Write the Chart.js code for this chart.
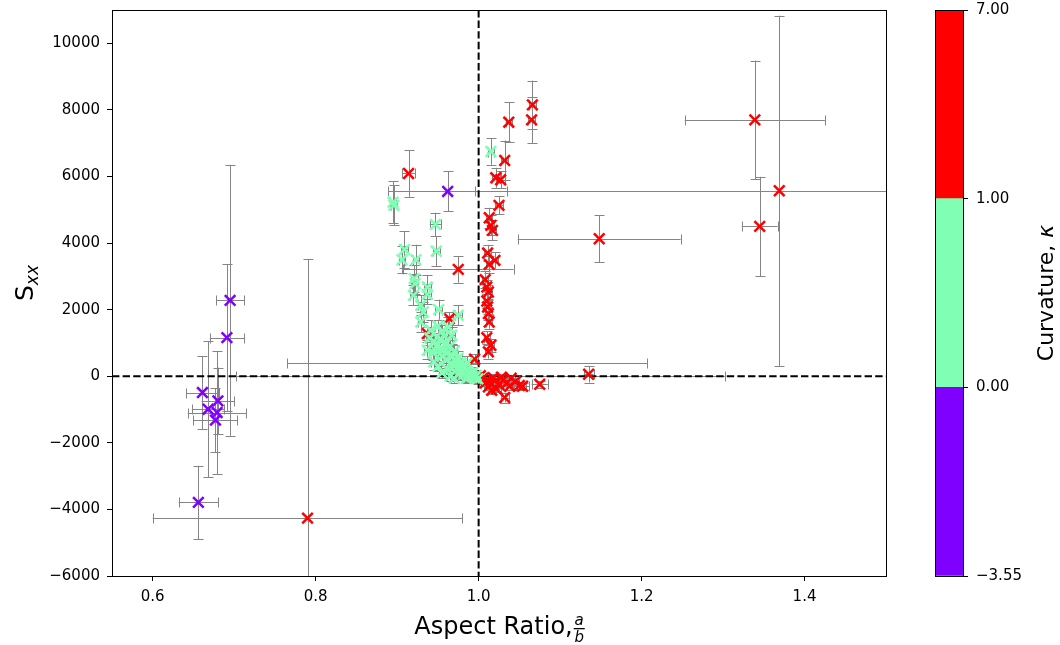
<!DOCTYPE html>
<html>
<head>
<meta charset="utf-8">
<script src="https://cdn.jsdelivr.net/npm/chart.js@4.4.0/dist/chart.umd.min.js"></script>
<style>
body{margin:0;background:#fff;}
#main{position:absolute;left:0;top:0;}
#cbar{position:absolute;left:900px;top:0;}
</style>
</head>
<body>
<canvas id="main" width="900" height="645"></canvas>
<canvas id="cbar" width="160" height="645"></canvas>
<script>
'use strict'

// rows are [aspect ratio, Sxx, x error, y error]
const purplePoints = [
    [0.695, 2280, 0.017, 4070],
    [0.691, 1160, 0.021, 2200],
    [0.661, -490, 0.020, 1100],
    [0.680, -740, 0.020, 1000],
    [0.668, -990, 0.020, 2050],
    [0.679, -1090, 0.036, 1850],
    [0.677, -1320, 0.027, 960],
    [0.656, -3790, 0.024, 1100],
    [0.962, 5550, 0.073, 600]
];

const greenPoints = [
    [0.895, 5230, 0.004, 620],
    [0.896, 5130, 0.004, 600],
    [0.947, 4560, 0.007, 350],
    [0.948, 3760, 0.004, 450],
    [0.909, 3810, 0.004, 550],
    [0.906, 3500, 0.004, 400],
    [0.923, 3500, 0.004, 450],
    [0.921, 2930, 0.004, 400],
    [0.937, 2680, 0.004, 350],
    [1.015, 6750, 0.004, 400],
    [0.922, 2780, 0.004, 300],
    [0.920, 2430, 0.004, 300],
    [0.937, 2460, 0.004, 300],
    [0.929, 2130, 0.004, 300],
    [0.932, 1930, 0.004, 300],
    [0.951, 2000, 0.004, 300],
    [0.929, 1630, 0.004, 300],
    [0.975, 1830, 0.004, 300],
    [0.941, 1380, 0.004, 300],
    [0.963, 1480, 0.004, 300],
    [0.967, 1230, 0.004, 250],
    [0.937, 780, 0.004, 250],
    [0.945, 430, 0.004, 250],
    [0.986, 400, 0.221, 200],
    [0.950, 1500, 0.004, 200],
    [0.955, 1350, 0.004, 200],
    [0.958, 1200, 0.004, 200],
    [0.952, 1100, 0.004, 200],
    [0.960, 1000, 0.004, 200],
    [0.965, 900, 0.004, 200],
    [0.957, 800, 0.004, 200],
    [0.962, 700, 0.004, 200],
    [0.970, 750, 0.004, 200],
    [0.968, 600, 0.004, 200],
    [0.975, 550, 0.004, 200],
    [0.972, 450, 0.004, 200],
    [0.978, 400, 0.004, 150],
    [0.980, 300, 0.004, 150],
    [0.983, 250, 0.004, 150],
    [0.975, 250, 0.004, 150],
    [0.985, 150, 0.004, 150],
    [0.988, 100, 0.004, 150],
    [0.990, 50, 0.004, 150],
    [0.992, 0, 0.004, 150],
    [0.995, -50, 0.004, 150],
    [0.997, 30, 0.004, 150],
    [0.982, 80, 0.004, 150],
    [0.978, 150, 0.004, 150],
    [0.970, 300, 0.004, 150],
    [0.960, 500, 0.004, 200],
    [0.955, 600, 0.004, 200],
    [0.948, 900, 0.004, 200],
    [0.945, 1050, 0.004, 200],
    [0.953, 800, 0.004, 200],
    [0.966, 400, 0.004, 150],
    [0.987, -30, 0.004, 150],
    [0.993, 120, 0.004, 150],
    [0.999, -80, 0.004, 150],
    [0.940, 1150, 0.004, 200],
    [0.944, 700, 0.004, 200],
    [0.950, 300, 0.004, 150],
    [0.962, 200, 0.004, 150],
    [0.975, 50, 0.004, 150],
    [0.985, -60, 0.004, 150],
    [0.955, 100, 0.004, 150],
    [0.965, 0, 0.004, 150],
    [0.970, -60, 0.004, 150]
];

const redPoints = [
    [0.790, -4260, 0.190, 7770],
    [0.914, 6090, 0.008, 700],
    [0.975, 3210, 0.068, 400],
    [1.066, 8150, 0.004, 730],
    [1.065, 7700, 0.004, 700],
    [1.037, 7630, 0.004, 600],
    [1.032, 6480, 0.004, 600],
    [1.021, 5960, 0.005, 300],
    [1.027, 5900, 0.005, 250],
    [1.025, 5130, 0.005, 270],
    [1.013, 4760, 0.004, 300],
    [1.015, 4530, 0.004, 300],
    [1.017, 4380, 0.004, 300],
    [1.011, 3700, 0.004, 250],
    [1.020, 3480, 0.004, 250],
    [1.013, 3360, 0.004, 250],
    [1.008, 2900, 0.004, 250],
    [1.010, 2680, 0.004, 200],
    [1.012, 2530, 0.004, 200],
    [1.010, 2260, 0.004, 200],
    [1.011, 2080, 0.004, 200],
    [1.012, 1880, 0.004, 200],
    [1.013, 1630, 0.004, 200],
    [1.010, 1160, 0.004, 200],
    [1.015, 930, 0.004, 200],
    [1.012, 730, 0.004, 200],
    [0.995, 510, 0.004, 150],
    [0.964, 1730, 0.004, 200],
    [0.937, 1280, 0.004, 200],
    [1.148, 4130, 0.100, 700],
    [1.339, 7700, 0.086, 1780],
    [1.369, 5570, 0.373, 5260],
    [1.345, 4500, 0.022, 1490],
    [1.135, 60, 0.006, 250],
    [1.002, 20, 0.300, 100],
    [1.005, -60, 0.005, 100],
    [1.010, -120, 0.005, 100],
    [1.015, -220, 0.005, 100],
    [1.020, -150, 0.005, 100],
    [1.012, -320, 0.005, 100],
    [1.018, -40, 0.005, 100],
    [1.025, -260, 0.005, 100],
    [1.030, -110, 0.005, 100],
    [1.035, -200, 0.005, 100],
    [1.040, -60, 0.005, 100],
    [1.045, -160, 0.005, 100],
    [1.050, -280, 0.008, 100],
    [1.054, -300, 0.008, 100],
    [1.075, -240, 0.010, 100],
    [1.032, -640, 0.005, 150],
    [1.022, -380, 0.005, 100],
    [1.008, -200, 0.005, 100],
    [1.028, -30, 0.005, 100],
    [1.038, -300, 0.005, 100],
    [1.016, -420, 0.005, 100]
];

const xTicks = [0.6, 0.8, 1.0, 1.2, 1.4];
const yTicks = [-6000, -4000, -2000, 0, 2000, 4000, 6000, 8000, 10000];
const cbarTicks = [0, 1, 2, 3];
const cbarLabels = ['\u22123.55', '0.00', '1.00', '7.00'];
const cbarSegments = [1, 1, 1];

const purple = '#8000ff';
const green = '#80ffb4';
const red = '#ff0000';
const errColor = '#858585';
const font = '"DejaVu Sans", sans-serif';
const tickSize = 15;

function toPoints(rows){
    return rows.map(r => ({x: r[0], y: r[1], xErr: r[2], yErr: r[3]}));
}

function crisp(v){
    return Math.round(v) + 0.5;
}

function minus(v){
    return String(v).replace('-', '\u2212');
}

// keep the plot box exactly where the layout padding puts it
function noEdgePadding(scale){
    scale.paddingTop = 0;
    scale.paddingBottom = 0;
    scale.paddingLeft = 0;
    scale.paddingRight = 0;
}

// grey error bars with caps, under the markers
const errorBarPlugin = {
    id: 'errorBars',
    beforeDatasetsDraw(chart){
        const {ctx, chartArea} = chart;
        const xs = chart.scales.x;
        const ys = chart.scales.y;
        const cap = 5;
        ctx.save();
        ctx.beginPath();
        ctx.rect(chartArea.left, chartArea.top, chartArea.width, chartArea.height);
        ctx.clip();
        ctx.strokeStyle = errColor;
        ctx.lineWidth = 1;
        for (let ds of chart.data.datasets){
            for (let p of ds.data){
                const px = crisp(xs.getPixelForValue(p.x));
                const py = crisp(ys.getPixelForValue(p.y));
                const x0 = xs.getPixelForValue(p.x - p.xErr);
                const x1 = xs.getPixelForValue(p.x + p.xErr);
                const y0 = ys.getPixelForValue(p.y - p.yErr);
                const y1 = ys.getPixelForValue(p.y + p.yErr);
                ctx.beginPath();
                ctx.moveTo(x0, py); ctx.lineTo(x1, py);
                ctx.moveTo(px, y0); ctx.lineTo(px, y1);
                ctx.moveTo(crisp(x0), py - cap); ctx.lineTo(crisp(x0), py + cap);
                ctx.moveTo(crisp(x1), py - cap); ctx.lineTo(crisp(x1), py + cap);
                ctx.moveTo(px - cap, crisp(y0)); ctx.lineTo(px + cap, crisp(y0));
                ctx.moveTo(px - cap, crisp(y1)); ctx.lineTo(px + cap, crisp(y1));
                ctx.stroke();
            }
        }
        // dashed reference lines at a/b = 1 and Sxx = 0
        ctx.strokeStyle = '#000';
        ctx.lineWidth = 2;
        ctx.setLineDash([7.4, 3.2]);
        const vx = xs.getPixelForValue(1.0);
        const hy = ys.getPixelForValue(0);
        ctx.beginPath();
        ctx.moveTo(vx, chartArea.top); ctx.lineTo(vx, chartArea.bottom);
        ctx.moveTo(chartArea.left, hy); ctx.lineTo(chartArea.right, hy);
        ctx.stroke();
        ctx.restore();
    }
};

const framePlugin = {
    id: 'frame',
    afterDraw(chart){
        const {ctx, chartArea} = chart;
        ctx.save();
        ctx.strokeStyle = '#000';
        ctx.lineWidth = 1;
        ctx.strokeRect(crisp(chartArea.left), crisp(chartArea.top),
            Math.round(chartArea.width), Math.round(chartArea.height));

        // x title: "Aspect Ratio," plus a small a/b fraction
        ctx.fillStyle = '#000';
        ctx.textBaseline = 'alphabetic';
        ctx.textAlign = 'left';
        ctx.font = '24px ' + font;
        const label = 'Aspect Ratio,';
        const w = ctx.measureText(label).width;
        const fw = 11;
        const cx = (chartArea.left + chartArea.right) / 2;
        const sx = cx - (w + fw) / 2;
        ctx.fillText(label, sx, 634);
        ctx.font = 'italic 15px ' + font;
        ctx.textAlign = 'center';
        ctx.fillText('a', sx + w + fw / 2 + 1, 625);
        ctx.fillText('b', sx + w + fw / 2 + 1, 642);
        ctx.fillRect(sx + w + 1, 628, fw, 1.3);

        // y title: S with subscript xx
        ctx.translate(33, 283);
        ctx.rotate(-Math.PI / 2);
        ctx.textAlign = 'left';
        ctx.font = '25px ' + font;
        const sw = ctx.measureText('S').width;
        ctx.font = 'italic 17px ' + font;
        const xw = ctx.measureText('xx').width;
        const start = -(sw + xw) / 2;
        ctx.font = '25px ' + font;
        ctx.fillText('S', start, 0);
        ctx.font = 'italic 17px ' + font;
        ctx.fillText('xx', start + sw, 5);
        ctx.restore();
    }
};

const mainChart = new Chart(document.getElementById('main'), {
    type: 'scatter',
    data: {
        datasets: [
            {data: toPoints(greenPoints), borderColor: green, backgroundColor: green},
            {data: toPoints(purplePoints), borderColor: purple, backgroundColor: purple},
            {data: toPoints(redPoints), borderColor: red, backgroundColor: red}
        ]
    },
    options: {
        responsive: false,
        animation: false,
        events: [],
        elements: {
            point: {pointStyle: 'crossRot', radius: 7.5, borderWidth: 2.5}
        },
        layout: {padding: {top: 10, right: 14, left: 0, bottom: 0}},
        plugins: {legend: {display: false}, tooltip: {enabled: false}},
        scales: {
            x: {
                type: 'linear',
                min: 0.55,
                max: 1.5,
                afterBuildTicks: scale => { scale.ticks = xTicks.map(v => ({value: v})); },
                afterFit: scale => { scale.height = 69; noEdgePadding(scale); },
                grid: {drawOnChartArea: false, drawTicks: true, tickLength: 5, color: '#000'},
                border: {color: '#000'},
                ticks: {
                    color: '#000',
                    padding: 7,
                    maxRotation: 0,
                    font: {family: font, size: tickSize},
                    callback: v => v.toFixed(1)
                }
            },
            y: {
                type: 'linear',
                min: -6000,
                max: 11000,
                afterBuildTicks: scale => { scale.ticks = yTicks.map(v => ({value: v})); },
                afterFit: scale => { scale.width = 112; noEdgePadding(scale); },
                grid: {drawOnChartArea: false, drawTicks: true, tickLength: 5, color: '#000'},
                border: {color: '#000'},
                ticks: {
                    color: '#000',
                    padding: 7,
                    font: {family: font, size: tickSize},
                    callback: v => minus(v)
                }
            }
        }
    },
    plugins: [errorBarPlugin, framePlugin]
});

// colour bar drawn as one stacked bar with the curvature bounds as ticks
const cbarPlugin = {
    id: 'cbarFrame',
    afterDraw(chart){
        const {ctx, chartArea} = chart;
        ctx.save();
        ctx.strokeStyle = '#000';
        ctx.lineWidth = 1;
        ctx.strokeRect(crisp(chartArea.left), crisp(chartArea.top),
            Math.round(chartArea.width), Math.round(chartArea.height));
        ctx.fillStyle = '#000';
        ctx.textBaseline = 'alphabetic';
        ctx.textAlign = 'left';
        const main = 'Curvature, ';
        ctx.font = '22px ' + font;
        const mw = ctx.measureText(main).width;
        ctx.font = 'italic 22px ' + font;
        const kw = ctx.measureText('\u03ba').width;
        ctx.translate(153, (chartArea.top + chartArea.bottom) / 2);
        ctx.rotate(-Math.PI / 2);
        const start = -(mw + kw) / 2;
        ctx.font = '22px ' + font;
        ctx.fillText(main, start, 0);
        ctx.font = 'italic 22px ' + font;
        ctx.fillText('\u03ba', start + mw, 0);
        ctx.restore();
    }
};

const cbarChart = new Chart(document.getElementById('cbar'), {
    type: 'bar',
    data: {
        labels: [''],
        datasets: [
            {data: [cbarSegments[0]], backgroundColor: purple},
            {data: [cbarSegments[1]], backgroundColor: green},
            {data: [cbarSegments[2]], backgroundColor: red}
        ]
    },
    options: {
        responsive: false,
        animation: false,
        events: [],
        barPercentage: 1,
        categoryPercentage: 1,
        layout: {padding: {top: 10, left: 35, right: 0, bottom: 69}},
        plugins: {legend: {display: false}, tooltip: {enabled: false}},
        scales: {
            x: {stacked: true, display: false},
            y: {
                stacked: true,
                position: 'right',
                min: 0,
                max: 3,
                afterBuildTicks: scale => { scale.ticks = cbarTicks.map(v => ({value: v})); },
                afterFit: scale => { scale.width = 97; noEdgePadding(scale); },
                grid: {drawOnChartArea: false, drawTicks: true, tickLength: 5, color: '#000'},
                border: {color: '#000'},
                ticks: {
                    color: '#000',
                    padding: 8,
                    font: {family: font, size: tickSize},
                    callback: (v, i) => cbarLabels[i]
                }
            }
        }
    },
    plugins: [cbarPlugin]
});
</script>
</body>
</html>
